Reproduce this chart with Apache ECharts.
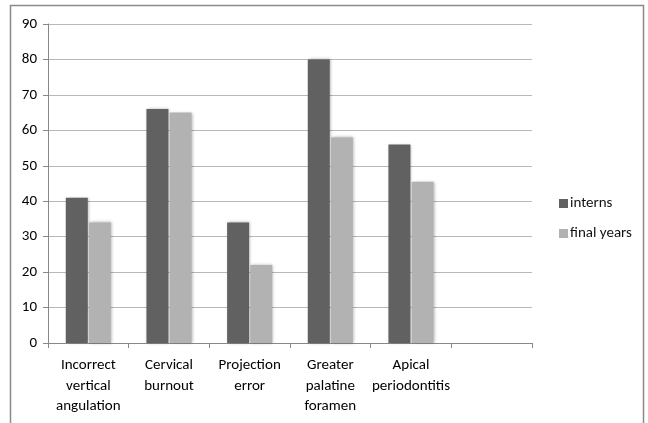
<!DOCTYPE html>
<html>
<head>
<meta charset="utf-8">
<script src="https://cdn.jsdelivr.net/npm/echarts@6/dist/echarts.min.js"></script>
<style>
  html, body { margin: 0; padding: 0; background: #fff; }
  #chart { width: 648px; height: 423px; }
</style>
</head>
<body>
<div id="chart"></div>
<script>
// categories (last slot is empty in the original)
const categories = [
  'Incorrect\nvertical\nangulation',
  'Cervical\nburnout',
  'Projection\nerror',
  'Greater\npalatine\nforamen',
  'Apical\nperiodontitis',
  ''
];
const interns = [41, 66, 34, 80, 56, null];
const finalYears = [34, 65, 22, 58, 45.5, null];
const yTicks = [0, 10, 20, 30, 40, 50, 60, 70, 80, 90];

const FONT = 'Carlito, "Liberation Sans Narrow", Lato, sans-serif';
const barShadow = {
  shadowBlur: 3,
  shadowColor: 'rgba(0,0,0,0.3)',
  shadowOffsetX: 1,
  shadowOffsetY: 0
};

const chart = echarts.init(document.getElementById('chart'));

chart.setOption({
  animation: false,
  textStyle: { fontFamily: FONT },
  graphic: [{
    type: 'rect',
    shape: { x: 10.5, y: 5.5, width: 633, height: 440 },
    style: { fill: 'none', stroke: '#8a8a8a', lineWidth: 1.5 },
    silent: true
  }],
  grid: { left: 48, right: 116, top: 24, bottom: 80 },
  legend: {
    orient: 'vertical',
    left: 554,
    top: 191,
    itemWidth: 9,
    itemHeight: 9,
    itemGap: 15,
    icon: 'rect',
    textStyle: { fontFamily: FONT, fontSize: 15, color: '#111', padding: [0, 0, 0, -3] },
    data: ['interns', 'final years']
  },
  xAxis: {
    type: 'category',
    data: categories,
    axisLine: { lineStyle: { color: '#888', width: 1 } },
    axisTick: { show: true, length: 5, lineStyle: { color: '#888' } },
    axisLabel: {
      interval: 0,
      color: '#000',
      fontSize: 15,
      lineHeight: 20.5,
      margin: 12,
      fontFamily: FONT
    }
  },
  yAxis: {
    type: 'value',
    min: 0,
    max: 90,
    interval: 10,
    axisLine: { show: true, lineStyle: { color: '#888', width: 1 } },
    axisTick: { show: true, length: 5, lineStyle: { color: '#888' } },
    axisLabel: {
      color: '#000',
      fontSize: 15,
      margin: 11,
      fontFamily: FONT,
      formatter: v => (yTicks.includes(v) ? String(v) : '')
    },
    splitLine: { lineStyle: { color: '#b8b8b8', width: 1 } }
  },
  series: [
    {
      name: 'interns',
      type: 'bar',
      data: interns,
      barWidth: 22,
      barGap: '5%',
      itemStyle: Object.assign({ color: '#616161' }, barShadow)
    },
    {
      name: 'final years',
      type: 'bar',
      data: finalYears,
      barWidth: 22,
      barGap: '5%',
      itemStyle: Object.assign({ color: '#b2b2b2' }, barShadow)
    }
  ]
});
</script>
</body>
</html>
